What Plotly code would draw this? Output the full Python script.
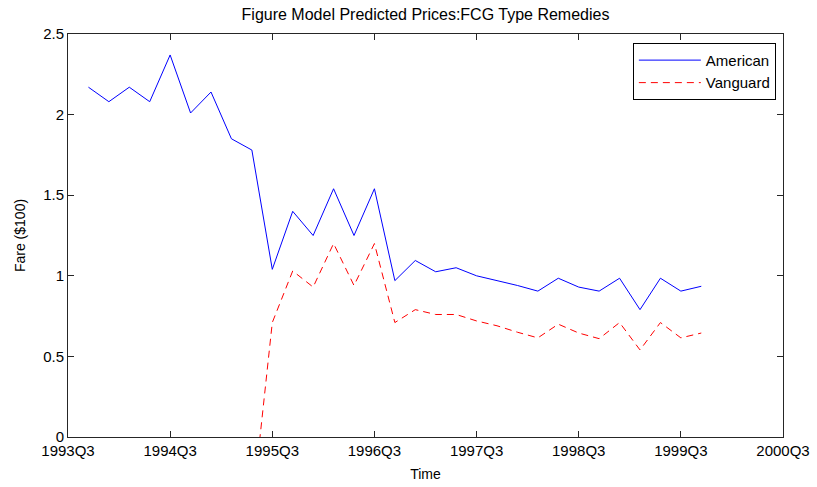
import plotly.graph_objects as go

# quarter positions in years after 1993Q3
x_pos = [0.2, 0.4, 0.6, 0.8, 1.0, 1.2, 1.4, 1.6, 1.8, 2.0, 2.2, 2.4, 2.6, 2.8, 3.0,
         3.2, 3.4, 3.6, 3.8, 4.0, 4.2, 4.4, 4.6, 4.8, 5.0, 5.2, 5.4, 5.6, 5.8, 6.0, 6.2]

american = [2.17, 2.08, 2.17, 2.08, 2.37, 2.01, 2.14, 1.85, 1.78, 1.04, 1.40, 1.25, 1.54,
            1.25, 1.54, 0.97, 1.095, 1.025, 1.05, 1.00, 0.97, 0.94, 0.905, 0.985, 0.93,
            0.905, 0.985, 0.79, 0.985, 0.905, 0.935]

vanguard = [None, None, None, None, None, None, None, None, -0.47, 0.71, 1.03, 0.93, 1.20,
            0.94, 1.20, 0.71, 0.79, 0.76, 0.76, 0.72, 0.69, 0.65, 0.615, 0.70, 0.645,
            0.61, 0.71, 0.54, 0.71, 0.615, 0.645]

x_tickvals = [0, 1, 2, 3, 4, 5, 6, 7]
x_ticklabels = ["1993Q3", "1994Q3", "1995Q3", "1996Q3", "1997Q3", "1998Q3", "1999Q3", "2000Q3"]
y_tickvals = [0, 0.5, 1, 1.5, 2, 2.5]
y_ticklabels = ["0", "0.5", "1", "1.5", "2", "2.5"]

FONT = "Liberation Sans, Arial, sans-serif"

fig = go.Figure()
fig.add_trace(go.Scatter(x=x_pos, y=american, mode="lines", name="American",
                         line=dict(color="#0000ff", width=1)))
fig.add_trace(go.Scatter(x=x_pos, y=vanguard, mode="lines", name="Vanguard",
                         line=dict(color="#ff0000", width=1, dash="7px,5px")))

axis_common = dict(showgrid=False, zeroline=False, showline=True, linecolor="#262626",
                   linewidth=1, mirror="allticks", ticks="inside", ticklen=6,
                   tickcolor="#262626", automargin=False,
                   tickfont=dict(family=FONT, size=15, color="#000"))

fig.update_layout(
    width=817, height=487,
    paper_bgcolor="white", plot_bgcolor="white",
    margin=dict(l=68, r=34, t=34, b=50),
    title=dict(text="Figure Model Predicted Prices:FCG Type Remedies",
               font=dict(family=FONT, size=16, color="#000"),
               x=0.5 + (68 - 34) / 2 / 817, xanchor="center",
               y=1 - 14 / 487, yanchor="middle", yref="container"),
    showlegend=True,
    legend=dict(x=0.99, xanchor="right", y=0.978, yanchor="top",
                bgcolor="white", bordercolor="#000", borderwidth=1,
                font=dict(family=FONT, size=15, color="#000"),
                tracegroupgap=0, itemwidth=62),
    xaxis=dict(range=[0, 7], tickvals=x_tickvals, ticktext=x_ticklabels,
               title=dict(text="Time", font=dict(family=FONT, size=14, color="#000"), standoff=11),
               **axis_common),
    yaxis=dict(range=[0, 2.5], tickvals=y_tickvals, ticktext=y_ticklabels,
               title=dict(text="Fare ($100)", font=dict(family=FONT, size=14, color="#000"), standoff=14),
               **axis_common),
)

fig.write_html("out.html", config={"displayModeBar": False},
               post_script="document.body.style.margin='0px';document.body.style.overflow='hidden';")
